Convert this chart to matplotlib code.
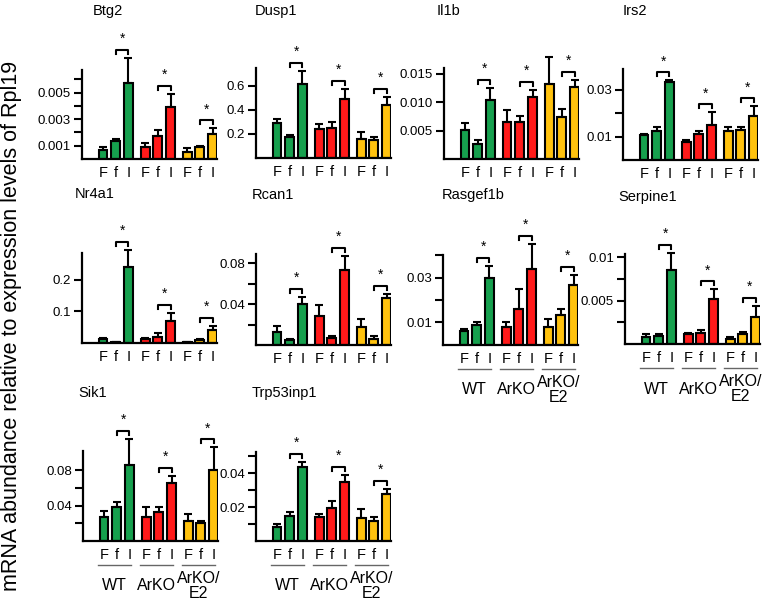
# qPCR panels: 10 genes, WT / ArKO / ArKO+E2, F f I
import numpy as np
import matplotlib
matplotlib.use('Agg')
import matplotlib.pyplot as plt

plt.rcParams['font.family'] = ['Liberation Sans', 'DejaVu Sans']

genes = ['Btg2', 'Dusp1', 'Il1b', 'Irs2', 'Nr4a1', 'Rcan1',
         'Rasgef1b', 'Serpine1', 'Sik1', 'Trp53inp1']
conditions = ['F', 'f', 'I']
groups = ['WT', 'ArKO', 'ArKO/\nE2']
colors = ['#16a04e', '#ff1a1a', '#ffc20e']

# mean values (WT F f I, ArKO F f I, ArKO/E2 F f I)
btg2_mean = [0.00068, 0.00136, 0.0057, 0.0009, 0.0017, 0.0039, 0.00053, 0.0009, 0.0019]
btg2_sem = [0.00022, 0.00014, 0.0019, 0.0003, 0.0005, 0.001, 0.0003, 0.0001, 0.0004]
dusp1_mean = [0.29, 0.175, 0.62, 0.24, 0.25, 0.49, 0.16, 0.15, 0.44]
dusp1_sem = [0.035, 0.015, 0.105, 0.04, 0.05, 0.085, 0.06, 0.025, 0.07]
il1b_mean = [0.0051, 0.0026, 0.0103, 0.0065, 0.0065, 0.0109, 0.0132, 0.0074, 0.0126]
il1b_sem = [0.0012, 0.0007, 0.0022, 0.0021, 0.001, 0.0012, 0.0047, 0.0014, 0.0013]
irs2_mean = [0.0109, 0.0126, 0.0335, 0.0078, 0.0113, 0.0148, 0.0126, 0.013, 0.0187]
irs2_sem = [0.0003, 0.0017, 0.0006, 0.0009, 0.0013, 0.0056, 0.0015, 0.0013, 0.0043]
nr4a1_mean = [0.012, 0.002, 0.24, 0.012, 0.018, 0.068, 0.003, 0.01, 0.04]
nr4a1_sem = [0.004, 0.001, 0.053, 0.003, 0.012, 0.027, 0.001, 0.003, 0.013]
rcan1_mean = [0.0127, 0.005, 0.040, 0.028, 0.007, 0.073, 0.0176, 0.006, 0.046]
rcan1_sem = [0.006, 0.001, 0.007, 0.011, 0.002, 0.014, 0.0074, 0.003, 0.004]
rasgef1b_mean = [0.0063, 0.009, 0.0296, 0.008, 0.0161, 0.034, 0.008, 0.0135, 0.0265]
rasgef1b_sem = [0.001, 0.0013, 0.0054, 0.0023, 0.0086, 0.0108, 0.0037, 0.0025, 0.0045]
serpine1_mean = [0.0008, 0.0009, 0.0086, 0.0012, 0.0013, 0.0052, 0.0006, 0.0011, 0.0031]
serpine1_sem = [0.0004, 0.0002, 0.0019, 0.0001, 0.0003, 0.0011, 0.0002, 0.0003, 0.0013]
sik1_mean = [0.0275, 0.039, 0.086, 0.0275, 0.033, 0.066, 0.023, 0.0205, 0.081]
sik1_sem = [0.0065, 0.0055, 0.03, 0.0105, 0.006, 0.008, 0.008, 0.0025, 0.025]
trp53inp1_mean = [0.0082, 0.0147, 0.0435, 0.014, 0.0194, 0.0347, 0.0135, 0.0118, 0.0277]
trp53inp1_sem = [0.0018, 0.0023, 0.003, 0.002, 0.0041, 0.0043, 0.0055, 0.0022, 0.0029]

means = [btg2_mean, dusp1_mean, il1b_mean, irs2_mean, nr4a1_mean, rcan1_mean,
         rasgef1b_mean, serpine1_mean, sik1_mean, trp53inp1_mean]
sems = [btg2_sem, dusp1_sem, il1b_sem, irs2_sem, nr4a1_sem, rcan1_sem,
        rasgef1b_sem, serpine1_sem, sik1_sem, trp53inp1_sem]

# y axis: upper limit, tick positions, tick labels
ymax = [0.0067, 0.75, 0.016, 0.039, 0.284, 0.0888, 0.04, 0.0104, 0.102, 0.0524]
yticks = [[0.001, 0.002, 0.003, 0.004, 0.005, 0.006],
          [0.2, 0.4, 0.6],
          [0.005, 0.010, 0.015],
          [0.01, 0.02, 0.03],
          [0.1, 0.2],
          [0.02, 0.04, 0.06, 0.08],
          [0.01, 0.02, 0.03, 0.04],
          [0.0025, 0.005, 0.0075, 0.01],
          [0.02, 0.04, 0.06, 0.08],
          [0.01, 0.02, 0.03, 0.04, 0.05]]
ylabels = [['0.001', '', '0.003', '', '0.005', ''],
           ['0.2', '0.4', '0.6'],
           ['0.005', '0.010', '0.015'],
           ['0.01', '', '0.03'],
           ['0.1', '0.2'],
           ['', '0.04', '', '0.08'],
           ['0.01', '', '0.03', ''],
           ['', '0.005', '', '0.01'],
           ['', '0.04', '', '0.08'],
           ['', '0.02', '', '0.04', '']]
show_groups = [False] * 6 + [True] * 4

# layout in pixels: y-axis x position, baseline y, axis top y
W, H = 767, 603
boxes = [(82, 159, 70), (256, 158, 68), (444, 159, 68), (623, 160, 69),
         (82, 343, 253), (256, 345, 254), (443, 345, 255), (625, 344, 254),
         (83, 541, 451), (256, 541, 452)]
title_xy = [(93, 11), (255, 11), (437, 11), (623, 11),
            (75, 194), (252, 195), (442, 195), (618, 197),
            (78, 393), (252, 393)]
AX_W = 135

pos = np.array([0, 1, 2, 3.3, 4.3, 5.3, 6.6, 7.6, 8.6])

fig = plt.figure(figsize=(W / 100, H / 100), dpi=100)

for k, gene in enumerate(genes):
    x0, yb, yt = boxes[k]
    ax_h = yb - yt
    ax = fig.add_axes([x0 / W, 1 - yb / H, AX_W / W, ax_h / H])
    m = np.array(means[k])
    s = np.array(sems[k])
    pxu = ax_h / ymax[k]  # pixels per data unit

    for g in range(3):
        idx = slice(3 * g, 3 * g + 3)
        ax.bar(pos[idx], m[idx], width=0.7, color=colors[g],
               edgecolor='black', linewidth=1.5, zorder=2)
        eb = ax.errorbar(pos[idx], m[idx], yerr=[np.zeros(3), s[idx]],
                         fmt='none', ecolor='black', elinewidth=1.5,
                         capsize=3, capthick=1.5, zorder=3)
        for a in list(eb.lines[1]) + list(eb.lines[2]):
            a.set_clip_on(False)

        # significance bracket between f and I
        xf, xi = pos[3 * g + 1], pos[3 * g + 2]
        top = max(m[3 * g + 1] + s[3 * g + 1], m[3 * g + 2] + s[3 * g + 2])
        ybr = top + 8 / pxu
        ax.plot([xf, xf, xi, xi], [ybr - 4 / pxu, ybr, ybr, ybr - 4 / pxu],
                color='black', lw=1.5, clip_on=False)
        ax.text((xf + xi) / 2, ybr + 4 / pxu, '*', ha='center', va='bottom',
                fontsize=10)

        if show_groups[k]:
            tr = ax.get_xaxis_transform()
            ax.plot([pos[3 * g] - 0.45, pos[3 * g + 2] + 0.15],
                    [-24 / ax_h, -24 / ax_h], color='#666666', lw=1,
                    transform=tr, clip_on=False)
            ax.text(pos[3 * g + 1] - 0.15, -45 / ax_h, groups[g],
                    transform=tr, ha='center', va='center', fontsize=11.5,
                    linespacing=1.0)

    ax.set_xlim(-1.65, 8.95)
    ax.set_ylim(0, ymax[k])
    ax.set_xticks(pos, conditions * 3)
    ax.set_yticks(yticks[k], ylabels[k])
    ax.tick_params(axis='x', length=0, labelsize=10.5, pad=5)
    ax.tick_params(axis='y', length=6, width=1.5, labelsize=9.5, pad=2)
    for side in ['top', 'right']:
        ax.spines[side].set_visible(False)
    for side in ['left', 'bottom']:
        ax.spines[side].set_linewidth(1.6)

    tx, ty = title_xy[k]
    fig.text(tx / W, 1 - ty / H, gene, ha='left', va='center', fontsize=10.5)

fig.text(12 / W, 1 - 326 / H,
         'mRNA abundance relative to expression levels of Rpl19',
         rotation=90, ha='center', va='center', fontsize=15.5)

plt.savefig('out.png', dpi=100)
